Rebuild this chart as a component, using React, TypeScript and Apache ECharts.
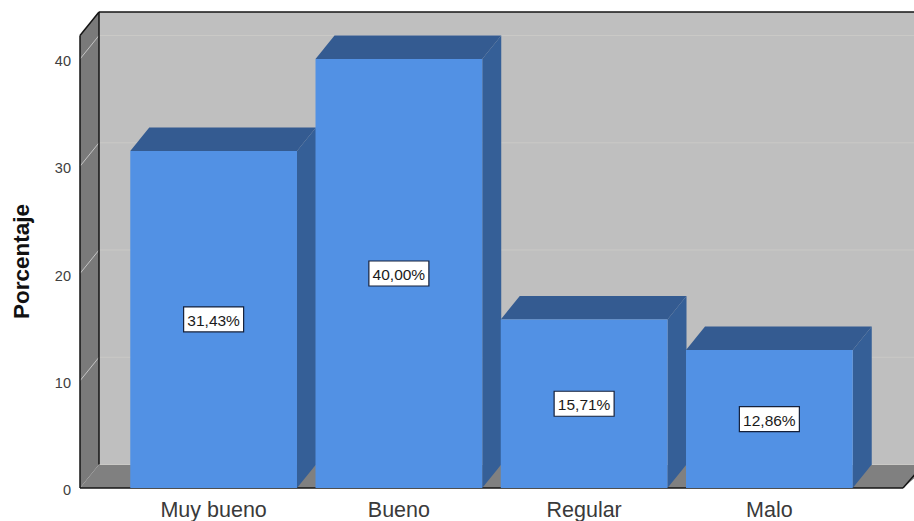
import React, { useEffect, useRef } from "react";
import * as echarts from "echarts";

const categories = ["Muy bueno", "Bueno", "Regular", "Malo"];
const percentages = [31.43, 40.0, 15.71, 12.86];
const gridTicks = [0, 10, 20, 30, 40];

const FONT = '"Liberation Sans", Arial, sans-serif';
const DEPTH_X = 19;
const DEPTH_Y = 23.5;
const COLORS = {
  wall: "#bfbfbf",
  side: "#7a7a7a",
  floor: "#808080",
  grid: "#cac9c6",
  sideGrid: "#c4c4c4",
  edge: "#141414",
  front: "#5291e4",
  top: "#345b91",
  right: "#355f97",
};

const poly = (points: number[][], fill: string) => ({
  type: "polygon",
  shape: { points },
  style: { fill, stroke: null },
});

const line = (x1: number, y1: number, x2: number, y2: number, stroke: string, lineWidth = 1.5) => ({
  type: "line",
  shape: { x1, y1, x2, y2 },
  style: { stroke, lineWidth },
});

// Back wall, left wall and floor of the 3D box, placed from the value scale.
const renderRoom = (params: any, api: any) => {
  const area = params.coordSys;
  const y0 = api.coord([0, 0])[1];
  const yTop = area.y - DEPTH_Y;
  const left = area.x - 41;
  const backX = left + DEPTH_X;
  const right = 903;
  const children: any[] = [
    poly([[backX, yTop - DEPTH_Y], [930, yTop - DEPTH_Y], [930, y0 - DEPTH_Y], [backX, y0 - DEPTH_Y]], COLORS.wall),
    poly([[left, yTop], [backX, yTop - DEPTH_Y], [backX, y0 - DEPTH_Y], [left, y0]], COLORS.side),
    poly([[left, y0], [backX, y0 - DEPTH_Y], [930, y0 - DEPTH_Y], [right, y0]], COLORS.floor),
  ];
  gridTicks.forEach((tick) => {
    const y = api.coord([0, tick])[1];
    children.push(line(backX, y - DEPTH_Y, 930, y - DEPTH_Y, COLORS.grid, 1));
    if (tick > 0) children.push(line(left, y, backX, y - DEPTH_Y, COLORS.sideGrid, 1));
  });
  children.push(
    line(backX, yTop - DEPTH_Y, 930, yTop - DEPTH_Y, COLORS.edge),
    line(backX, yTop - DEPTH_Y, backX, y0 - DEPTH_Y, COLORS.edge),
    line(left, yTop, backX, yTop - DEPTH_Y, COLORS.edge),
    line(left, yTop, left, y0, COLORS.edge),
    line(left, y0, right, y0, COLORS.edge),
    line(right, y0, 930, y0 - 31, COLORS.edge)
  );
  return { type: "group", children };
};

// One extruded bar with its value tag centred on the front face.
const renderBar = (_params: any, api: any) => {
  const value = api.value(1);
  const [cx, yValue] = api.coord([api.value(0), value]);
  const y0 = api.coord([api.value(0), 0])[1];
  const yMid = api.coord([api.value(0), value / 2])[1];
  const halfWidth = (api.size([1, 0])[0] * 0.9) / 2;
  const x1 = cx - halfWidth;
  const x2 = cx + halfWidth;
  const text = value.toFixed(2).replace(".", ",") + "%";
  return {
    type: "group",
    children: [
      poly([[x1, yValue], [x1 + DEPTH_X, yValue - DEPTH_Y], [x2 + DEPTH_X, yValue - DEPTH_Y], [x2, yValue]], COLORS.top),
      poly([[x2, yValue], [x2 + DEPTH_X, yValue - DEPTH_Y], [x2 + DEPTH_X, y0 - DEPTH_Y], [x2, y0]], COLORS.right),
      poly([[x1, yValue], [x2, yValue], [x2, y0], [x1, y0]], COLORS.front),
      {
        type: "rect",
        shape: { x: cx - 30, y: yMid - 12.5, width: 60, height: 25 },
        style: { fill: "#ffffff", stroke: "#15203a", lineWidth: 1.2 },
      },
      {
        type: "text",
        style: {
          text,
          x: cx,
          y: yMid + 1,
          align: "center",
          verticalAlign: "middle",
          fontFamily: FONT,
          fontSize: 15.5,
          fill: "#1a1a1a",
        },
      },
    ],
  };
};

export default function App() {
  const ref = useRef<HTMLDivElement>(null);

  useEffect(() => {
    const chart = echarts.init(ref.current!, undefined, { renderer: "svg" });
    chart.setOption({
      animation: false,
      backgroundColor: "#ffffff",
      grid: { left: 121, top: 59, width: 741, height: 429 },
      xAxis: {
        type: "category",
        data: categories,
        axisLine: { show: false },
        axisTick: { show: false },
        axisLabel: { fontFamily: FONT, fontSize: 21.5, color: "#3a3a3a", margin: 11 },
      },
      yAxis: {
        type: "value",
        min: 0,
        max: 40,
        interval: 10,
        offset: 41,
        name: "Porcentaje",
        nameLocation: "middle",
        nameGap: 47,
        nameTextStyle: {
          fontFamily: FONT,
          fontSize: 22.5,
          fontWeight: "bold",
          color: "#111111",
          padding: [0, 0, 0, 24],
        },
        splitLine: { show: false },
        axisLine: { show: false },
        axisTick: { show: false },
        axisLabel: {
          margin: 9,
          formatter: "{tick|{value}}",
          rich: {
            tick: { fontFamily: FONT, fontSize: 14.5, color: "#404040", padding: [4, 0, 0, 0] },
          },
        },
      },
      series: [
        {
          type: "custom",
          silent: true,
          renderItem: renderRoom,
          data: [[0, 0]],
          z: 1,
        },
        {
          type: "custom",
          renderItem: renderBar,
          encode: { x: 0, y: 1 },
          data: percentages.map((p, i) => [i, p]),
          z: 2,
        },
      ],
    });
    return () => chart.dispose();
  }, []);

  return <div ref={ref} style={{ position: "absolute", left: 0, top: 0, width: 914, height: 521 }} />;
}
